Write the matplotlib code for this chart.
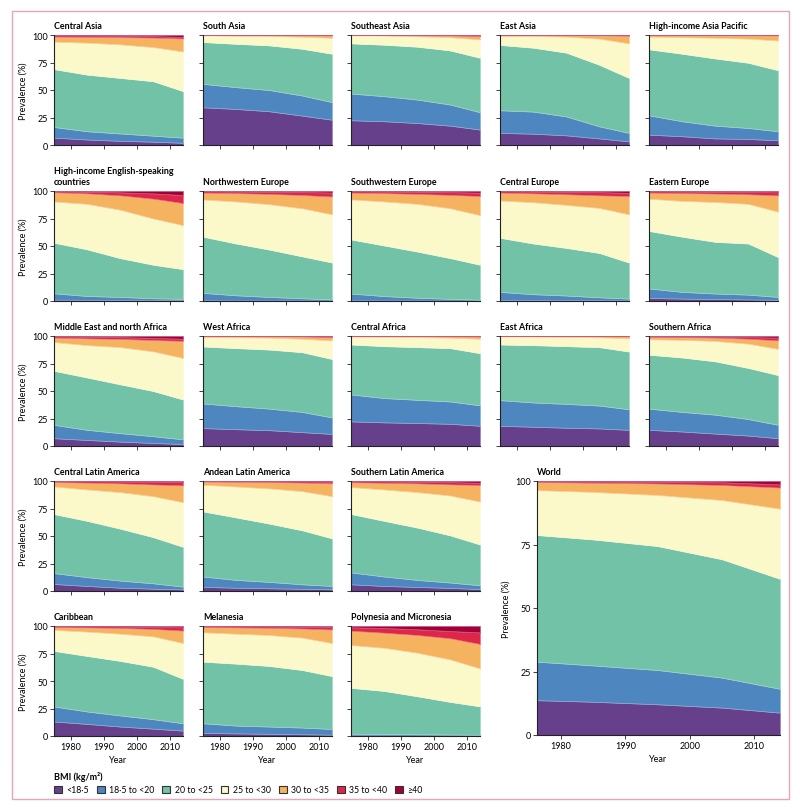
import numpy as np
import matplotlib
matplotlib.use("Agg")
import matplotlib.pyplot as plt
from matplotlib.patches import Patch, Rectangle

plt.rcParams["font.family"] = ["Lato", "DejaVu Sans"]

# Years sampled from the reference curves
YEARS = [1975, 1985, 1995, 2005, 2014]

CATEGORIES = ["<18·5", "18·5 to <20", "20 to <25", "25 to <30",
              "30 to <35", "35 to <40", "≥40"]
COLORS = ["#67408c", "#4e86bf", "#71c2a6", "#fbf8c9",
          "#f5b360", "#de2648", "#a3003a"]

# Cumulative upper bound (%) of each BMI band, bottom band first (≥40 fills to 100)
central_asia = [[6.7, 5.0, 3.8, 3.0, 2.0], [16.4, 12.5, 10.5, 8.5, 6.7],
                [69, 64, 61, 58, 49], [94, 93, 91.5, 89, 85],
                [98.5, 98.3, 98, 97.6, 96.8], [99.7, 99.6, 99.4, 99.0, 98.2]]
south_asia = [[34.3, 32.8, 30.7, 26.7, 23], [55.6, 52.6, 50, 45, 39],
              [93.6, 92, 90.6, 87.5, 83], [99.7, 99.3, 99, 98.4, 97.5],
              [100, 99.9, 99.9, 99.8, 99.6], [100, 100, 100, 100, 99.9]]
southeast_asia = [[22.5, 21.6, 20, 17.6, 14], [46.8, 44.4, 41.3, 36.8, 29.8],
                  [92.4, 91.2, 89.4, 86, 79.3], [99.7, 99.5, 98.8, 98, 96],
                  [100, 99.9, 99.8, 99.6, 99.1], [100, 100, 100, 99.9, 99.7]]
east_asia = [[11, 10.3, 8.8, 6, 3.3], [31.6, 30.4, 26, 17, 11],
             [91, 88.5, 84, 73, 61], [99, 99, 98.5, 96.7, 92.4],
             [100, 100, 99.9, 99.7, 99.4], [100, 100, 100, 99.9, 99.8]]
hi_asia_pacific = [[9.4, 8, 6, 5.5, 4.3], [27, 21.6, 17.6, 15.5, 12.5],
                   [87, 83, 78.7, 74.8, 68], [98.5, 98, 97.5, 96.7, 95],
                   [99.9, 99.8, 99.8, 99.7, 99.6], [100, 100, 100, 100, 99.9]]
hi_english = [[1.2, 1.1, 1.0, 1.0, 0.9], [7, 4.6, 3.7, 2.5, 2],
              [53, 47, 39, 33, 29], [90.5, 88.3, 83, 75, 69],
              [98.8, 97.8, 96, 93, 89], [99.8, 99.4, 98.8, 97.8, 96.3]]
nw_europe = [[0.6, 0.5, 0.5, 0.5, 0.4], [7.4, 5.2, 3.7, 2.5, 1.5],
             [58.5, 52.3, 46.8, 40.6, 35], [92.3, 90.5, 88, 84.3, 78.8],
             [98.5, 98, 97.3, 96.3, 95], [99.8, 99.6, 99.4, 99.1, 98.6]]
sw_europe = [[0.6, 0.5, 0.5, 0.4, 0.4], [6.8, 4.5, 3, 2, 1.2],
             [56, 50.5, 45, 39, 33], [92.3, 90.5, 88.3, 84.3, 78],
             [98.5, 98, 97.3, 96.4, 95.4], [99.8, 99.6, 99.4, 99, 98.5]]
central_europe = [[1.0, 0.9, 0.8, 0.7, 0.6], [8.3, 6.2, 5, 3.4, 2.2],
                  [57.5, 52.3, 48.3, 43.7, 35], [91.4, 89.8, 87.4, 84.6, 78.8],
                  [98.5, 97.8, 97, 96, 95.4], [99.8, 99.6, 99.3, 99, 98.3]]
eastern_europe = [[2.8, 2.2, 1.8, 1.4, 1], [11.4, 8.3, 6.8, 5.8, 3.7],
                  [63.7, 58.5, 53.8, 52.3, 40], [93, 91, 90, 88.3, 81.2],
                  [98.5, 98, 97.6, 97, 96], [99.7, 99.6, 99.4, 99.2, 98.8]]
mena = [[7.1, 5.5, 4, 2.8, 1.8], [19.3, 14.7, 11.7, 8.9, 6.1],
        [68.4, 62.3, 56.1, 50, 42.3], [94.5, 91.7, 89.9, 86, 80],
        [98.5, 97.8, 97.3, 96.3, 95.5], [99.7, 99.4, 99, 98.3, 97.5]]
west_africa = [[16.3, 15.3, 14.4, 12.6, 11], [38.7, 36.2, 34, 31, 26],
               [90.5, 89, 87.7, 85.3, 79.1], [99, 98.8, 98.5, 97.5, 96],
               [99.9, 99.9, 99.8, 99.6, 99], [100, 100, 100, 99.9, 99.6]]
central_africa = [[22.4, 21.5, 20.9, 20.2, 18.4], [46.9, 43.6, 42, 40.5, 37],
                  [92.3, 90.8, 89.9, 89, 84.4], [99.5, 99.3, 99, 98.5, 97.5],
                  [100, 100, 99.9, 99.8, 99.5], [100, 100, 100, 100, 99.9]]
east_africa = [[18.4, 17.5, 16.6, 16, 14.7], [41.7, 39.6, 38.3, 36.8, 33.4],
               [92.3, 91.7, 90.8, 89.9, 85.9], [99.7, 99.5, 99.2, 98.8, 97.9],
               [100, 100, 99.9, 99.9, 99.7], [100, 100, 100, 100, 99.9]]
southern_africa = [[14.7, 13.2, 11.3, 9.5, 7.1], [34, 31, 28.5, 24.5, 19.3],
                   [83, 80.5, 77, 71, 64.5], [97, 96.5, 95.5, 93, 88.3],
                   [99.3, 99, 98.5, 97.5, 96], [99.8, 99.7, 99.4, 99, 98.5]]
central_latam = [[6.4, 4.6, 3, 2.1, 1.5], [16.3, 12.6, 9.5, 7, 4],
                 [70, 63.8, 56.7, 49, 40.2], [95, 92.3, 89.9, 86.2, 80.7],
                 [99, 98.5, 97.8, 96.8, 96], [99.9, 99.8, 99.6, 99.4, 99.2]]
andean_latam = [[3.7, 3, 2.5, 2, 1.5], [13.2, 10.1, 8.3, 6.1, 4.6],
                [72.4, 66.9, 61.3, 55.2, 47.9], [96.6, 95, 93.3, 90.8, 86.2],
                [99.5, 99.2, 99, 98.5, 97.9], [99.9, 99.9, 99.8, 99.7, 99.5]]
southern_latam = [[6.1, 4.6, 3.7, 2.8, 1.8], [16.9, 13.2, 10.1, 7.7, 5.2],
                  [70, 63.8, 57.7, 50.6, 42.3], [94.5, 92.3, 89.9, 86.8, 81.3],
                  [98.8, 98.3, 97.8, 96.9, 96.3], [99.8, 99.7, 99.4, 99, 98.4]]
caribbean = [[13.2, 11, 8.6, 6.7, 4.9], [26.9, 22.3, 18.7, 15.3, 11.6],
             [77.4, 72.8, 68.3, 63, 52], [96.4, 94.9, 93, 90.6, 84.5],
             [99, 98.7, 98.2, 97.3, 95.8], [99.9, 99.8, 99.6, 99.3, 98.8]]
melanesia = [[2.8, 2.4, 2, 1.6, 1.2], [11.6, 9.5, 8.6, 7.7, 6.4],
             [67.6, 65.8, 63.7, 60, 54.5], [94.3, 93, 91.8, 89.4, 84.5],
             [99, 98.7, 98.3, 97.7, 96.8], [99.8, 99.7, 99.6, 99.4, 99.2]]
polynesia = [[0.5, 0.5, 0.4, 0.4, 0.3], [2.1, 1.9, 1.6, 1.4, 1.2],
             [43.8, 41, 36.2, 31, 27], [82.7, 80.2, 75.7, 69.6, 61.4],
             [95.7, 93.9, 91.8, 88.8, 83.6], [98.8, 98.2, 97, 95.4, 94.2]]
world = [[13.8, 13.1, 12.1, 10.8, 8.8], [29.1, 27.4, 25.6, 22.6, 18.2],
         [79, 77, 74.4, 69.2, 61.5], [96.5, 95.7, 94.5, 92.5, 89.1],
         [99.6, 99.3, 99, 98.4, 97.4], [99.9, 99.8, 99.7, 99.5, 98.7]]

GRID = [
    [("Central Asia", central_asia), ("South Asia", south_asia),
     ("Southeast Asia", southeast_asia), ("East Asia", east_asia),
     ("High-income Asia Pacific", hi_asia_pacific)],
    [("High-income English-speaking\ncountries", hi_english),
     ("Northwestern Europe", nw_europe), ("Southwestern Europe", sw_europe),
     ("Central Europe", central_europe), ("Eastern Europe", eastern_europe)],
    [("Middle East and north Africa", mena), ("West Africa", west_africa),
     ("Central Africa", central_africa), ("East Africa", east_africa),
     ("Southern Africa", southern_africa)],
    [("Central Latin America", central_latam),
     ("Andean Latin America", andean_latam),
     ("Southern Latin America", southern_latam)],
    [("Caribbean", caribbean), ("Melanesia", melanesia),
     ("Polynesia and Micronesia", polynesia)],
]

W, H = 800, 812


def px_rect(left, top, right, bottom):
    return [left / W, 1 - bottom / H, (right - left) / W, (bottom - top) / H]


def lighten(c, f=0.35):
    rgb = np.array(matplotlib.colors.to_rgb(c))
    return tuple(rgb + (1 - rgb) * f)


def draw_panel(ax, title, bounds, show_x, show_y, xlim=(1975, 2014)):
    b = np.vstack([np.zeros(len(YEARS)), np.array(bounds, dtype=float),
                   np.full(len(YEARS), 100.0)])
    layers = np.diff(b, axis=0)
    polys = ax.stackplot(YEARS, *layers, colors=COLORS, linewidth=0.5)
    for p, c in zip(polys, COLORS):
        p.set_edgecolor(lighten(c))
    ax.set_xlim(*xlim)
    ax.set_ylim(0, 100)
    ax.set_xticks([1980, 1990, 2000, 2010])
    ax.set_yticks([0, 25, 50, 75, 100])
    for s in ("top", "right"):
        ax.spines[s].set_visible(False)
    for s in ("left", "bottom"):
        ax.spines[s].set_linewidth(0.8)
        ax.spines[s].set_color("#222222")
    ax.tick_params(length=3, width=0.6, labelsize=6.5, pad=1.5, color="#222222")
    if not show_x:
        ax.tick_params(axis="x", labelbottom=False)
    else:
        ax.set_xlabel("Year", fontsize=6.5, labelpad=3)
    if not show_y:
        ax.tick_params(axis="y", labelleft=False)
    else:
        ax.set_ylabel("Prevalence (%)", fontsize=6.5, labelpad=3)
    ax.set_title(title, fontsize=6.4, fontweight="bold", loc="left",
                 pad=5, linespacing=1.3, x=0.0)


fig = plt.figure(figsize=(W / 100, H / 100), dpi=100)

col_left = [54, 203, 351, 500, 649]
row_top = [36, 192, 337, 482, 627]
pw, ph = 129, 110

for r, row in enumerate(GRID):
    for c, (name, bounds) in enumerate(row):
        x0, y0 = col_left[c], row_top[r]
        ax = fig.add_axes(px_rect(x0, y0, x0 + pw, y0 + ph))
        draw_panel(ax, name, bounds, show_x=(r == 4), show_y=(c == 0))

axw = fig.add_axes(px_rect(537, 482, 780, 736))
draw_panel(axw, "World", world, show_x=True, show_y=True, xlim=(1976.3, 2014))

handles = [Patch(facecolor=c, edgecolor="#333333", linewidth=0.8) for c in COLORS]
leg = fig.legend(handles, CATEGORIES, ncol=7, loc="upper left",
                 bbox_to_anchor=(48 / W, 1 - 766 / H), frameon=False,
                 fontsize=6.3, title="BMI (kg/m²)",
                 title_fontproperties={"weight": "bold", "size": 6.5},
                 handlelength=0.9, handleheight=0.75, handletextpad=0.5,
                 columnspacing=0.9, alignment="left", borderpad=0.2)

fig.patches.append(Rectangle((11.5 / W, 1 - 800 / H), (788.5 - 11.5) / W,
                             (800 - 11.5) / H, transform=fig.transFigure,
                             fill=False, edgecolor="#eaa4b8", linewidth=1.0))

fig.savefig("out.png", dpi=100)
